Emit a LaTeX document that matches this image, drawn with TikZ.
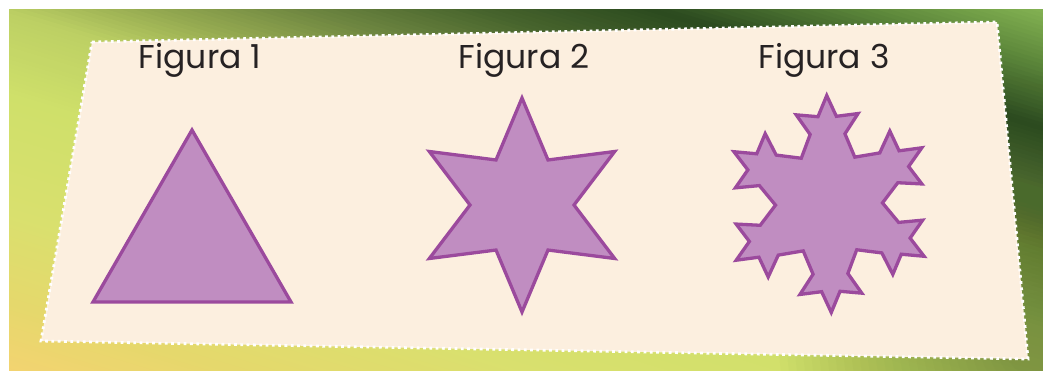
\documentclass[tikz,border=0pt]{standalone}
\usepackage{fontspec}
\setmainfont{Poppins}
\definecolor{g1}{HTML}{8FBF5A}
\definecolor{g2}{HTML}{5F8A3C}
\definecolor{g3}{HTML}{2B4A1F}
\definecolor{g4}{HTML}{46632C}
\definecolor{g5}{HTML}{6D8540}
\definecolor{g6}{HTML}{98AD52}
\definecolor{g7}{HTML}{BDD064}
\definecolor{g8}{HTML}{CFE06A}
\definecolor{g9}{HTML}{D9E06E}
\definecolor{g10}{HTML}{E6D86C}
\definecolor{g11}{HTML}{F7D272}
\definecolor{darkol}{HTML}{4A6A2C}
\definecolor{paper}{HTML}{FCEFDF}
\definecolor{shfill}{HTML}{C08DC1}
\definecolor{shline}{HTML}{9B4A9D}
\definecolor{txt}{HTML}{262223}
\newcommand{\bgseg}[4]{%
  \pgfmathtruncatemacro{\bgn}{max(1,round((#2-#1)/4))}%
  \pgfmathtruncatemacro{\bgm}{\bgn-1}%
  \foreach \k in {0,...,\bgm}{%
    \pgfmathsetmacro{\bgsa}{#1+(#2-#1)*\k/\bgn}%
    \pgfmathsetmacro{\bgsb}{#1+(#2-#1)*(\k+1)/\bgn+1.5}%
    \pgfmathtruncatemacro{\bgpc}{100*(\k+0.5)/\bgn}%
    \fill[#4!\bgpc!#3] ({-0.290*\bgsa-1300},{0.957*\bgsa-394}) -- ({-0.290*\bgsa+1300},{0.957*\bgsa+394}) -- ({-0.290*\bgsb+1300},{0.957*\bgsb+394}) -- ({-0.290*\bgsb-1300},{0.957*\bgsb-394}) -- cycle;
  }%
}
\tikzset{
  koch/.style={fill=shfill, draw=shline, line width=3.3pt, line join=miter},
  lab/.style={anchor=base, text=txt, font=\fontsize{33}{36}\selectfont, inner sep=0pt},
  dots/.style={draw=white, line width=2.8pt, dash pattern=on 2.8pt off 3.5pt}
}
\begin{document}
\begin{tikzpicture}[x=1pt,y=-1pt]
\fill[white] (0,0) rectangle (1043,370);
\useasboundingbox (0,0) rectangle (1043,370);
\begin{scope}
  \clip (9,9) rectangle (1043,370);
  \bgseg{-310}{-245}{g1}{g2}
  \bgseg{-245}{-181}{g2}{g3}
  \bgseg{-181}{-130}{g3}{g4}
  \bgseg{-130}{-80}{g4}{g5}
  \bgseg{-80}{-30}{g5}{g6}
  \bgseg{-30}{10}{g6}{g7}
  \bgseg{10}{90}{g7}{g8}
  \bgseg{90}{200}{g8}{g9}
  \bgseg{200}{290}{g9}{g10}
  \bgseg{290}{370}{g10}{g11}
  \foreach \rr in {264,256,...,40} \fill[darkol, opacity=0.025] (1043,340) circle (\rr pt);
\end{scope}
% paper
\coordinate (p1) at (92,42);
\coordinate (p2) at (997,22);
\coordinate (p3) at (1028,359);
\coordinate (p4) at (41,341);
\fill[paper] (p1) -- (p2) -- (p3) -- (p4) -- cycle;
\draw[dots] (p1) -- (p2) -- (p3) -- (p4) -- cycle;
% labels
\node[lab] (f1) at (200,68.3) {Figura 1};
\node[lab] (f2) at (524,68.3) {Figura 2};
\node[lab] (f3) at (824,68.3) {Figura 3};
% figure 1
\filldraw[koch] (192,130) -- (291,302) -- (93,302) -- cycle;
% figure 2
\begin{scope}[shift={(522,205)}]
  \filldraw[koch] (0:52) \foreach \a in {30,90,...,270} { -- (\a:107) -- ({\a+30}:52) } -- (330:107) -- cycle;
\end{scope}
% figure 3
\begin{scope}[shift={(829,204)}]
  \filldraw[koch] (-1.2:53.5)
    \foreach \p in {28.8,88.8,148.8,208.8,268.8}{ -- ({\p-14}:72) -- ({\p-19}:95) -- ({\p-6}:88) -- (\p:108.5) -- ({\p+6}:88) -- ({\p+19}:95) -- ({\p+14}:72) -- ({\p+30}:53.5) }
    -- (314.8:72) -- (309.8:95) -- (322.8:88) -- (328.8:108.5) -- (334.8:88) -- (347.8:95) -- (342.8:72) -- cycle;
\end{scope}
\end{tikzpicture}
\end{document}
